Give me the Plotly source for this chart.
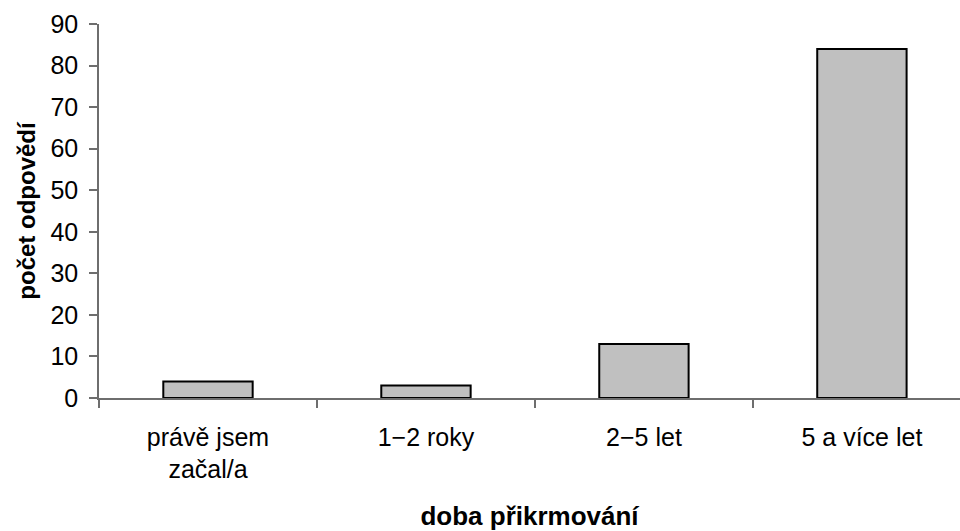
import plotly.graph_objects as go

# Survey: how long respondents have been feeding birds
categories = ["právě jsem<br>začal/a", "1−2 roky", "2−5 let", "5 a více let"]
counts = [4, 3, 13, 84]
y_ticks = [0, 10, 20, 30, 40, 50, 60, 70, 80, 90]

FONT = "Liberation Sans, Arial, sans-serif"

fig = go.Figure(
    go.Bar(
        x=categories,
        y=counts,
        width=0.41,
        marker=dict(color="#c0c0c0", line=dict(color="#000000", width=2)),
    )
)

fig.update_layout(
    width=960,
    height=531,
    margin=dict(l=99, r=0, t=24, b=133),
    paper_bgcolor="white",
    plot_bgcolor="white",
    showlegend=False,
    font=dict(family=FONT, size=24, color="#000000"),
)

fig.update_xaxes(
    type="category",
    range=[-0.5, 3.45],
    showline=True,
    linecolor="#6e6e6e",
    linewidth=1.5,
    ticks="outside",
    tickson="boundaries",
    ticklen=8,
    tickcolor="#6e6e6e",
    tickwidth=1.5,
    showgrid=False,
    ticklabelstandoff=16,
    tickfont=dict(family=FONT, size=25),
    title=dict(text="<b>doba přikrmování</b>", font=dict(family=FONT, size=26), standoff=26),
)

fig.update_yaxes(
    range=[0, 90],
    tickvals=y_ticks,
    showline=True,
    linecolor="#6e6e6e",
    linewidth=1.5,
    ticks="outside",
    ticklen=8,
    tickcolor="#6e6e6e",
    tickwidth=1.5,
    showgrid=False,
    zeroline=False,
    ticklabelstandoff=6,
    tickfont=dict(family=FONT, size=25),
    title=dict(text="<b>počet odpovědí</b>", font=dict(family=FONT, size=24), standoff=8),
)

fig.write_html("out.html")
